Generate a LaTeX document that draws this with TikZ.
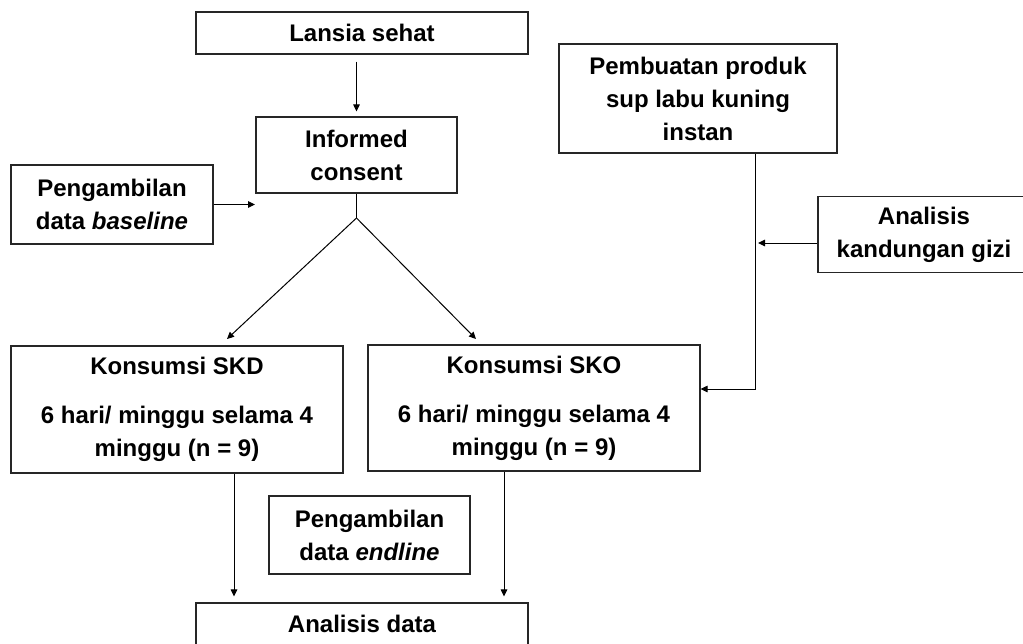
\documentclass[tikz,border=0pt]{standalone}
\usepackage{fontspec}
\setmainfont{Liberation Sans}
\usetikzlibrary{arrows.meta}
\begin{document}
\begin{tikzpicture}[x=1pt,y=-1pt,
  box/.style={draw=black!85,line width=1.1pt,align=center,inner sep=0pt,
    font=\bfseries\fontsize{24}{33}\selectfont},
  arr/.style={-{Triangle[length=7pt,width=6.5pt]},line width=1pt},
  ln/.style={line width=1pt}]
\useasboundingbox (0,0) rectangle (1023,643);
\fill[white] (0,0) rectangle (1023,643);
% boxes
\node[box,minimum width=332pt,minimum height=42pt] (lansia) at (362,33) {Lansia sehat};
\node[box,minimum width=201pt,minimum height=76pt] (ic) at (356.5,155) {Informed\\consent};
\node[box,minimum width=202pt,minimum height=79pt] (base) at (112,204.5) {Pengambilan\\data \textit{baseline}};
\node[box,minimum width=278pt,minimum height=109pt] (prod) at (698,98.5) {Pembuatan produk\\sup labu kuning\\instan};
\node[box,minimum width=212pt,minimum height=76pt] (gizi) at (924,234.5) {Analisis\\kandungan gizi};
\node[box,minimum width=332pt,minimum height=127pt] (skd) at (177,409.5) {Konsumsi SKD\\[16pt]6 hari/ minggu selama 4\\minggu (n = 9)};
\node[box,minimum width=332pt,minimum height=126pt] (sko) at (534,408) {Konsumsi SKO\\[16pt]6 hari/ minggu selama 4\\minggu (n = 9)};
\node[box,minimum width=201pt,minimum height=78pt] (endl) at (369.5,535) {Pengambilan\\data \textit{endline}};
\node[box,minimum width=332pt,minimum height=42pt] (ana) at (362,624) {Analisis data};
% helper coordinates
\coordinate (bt) at (255,204.5);
\coordinate (fork) at (356.5,218);
\coordinate (skdin) at (227,339);
\coordinate (skoin) at (476,339);
\coordinate (c1) at (234,0);
\coordinate (c2) at (504,0);
\coordinate (turn) at (755,389);
\coordinate (gz) at (758,243);
% connectors
\draw[arr,shorten <=7pt,shorten >=5pt] (ic.north |- lansia.south) -- (ic.north);
\draw[arr] (base.east) -- (bt);
\draw[ln] (ic.south) -- (fork);
\draw[arr] (fork) -- (skdin);
\draw[arr] (fork) -- (skoin);
\draw[arr,shorten >=6pt] (skd.south -| c1) -- (ana.north -| c1);
\draw[arr,shorten >=6pt] (sko.south -| c2) -- (ana.north -| c2);
\draw[arr] (prod.south -| turn) -- (turn) -- (sko.east |- turn);
\draw[arr] (gizi.west |- gz) -- (gz);
\end{tikzpicture}
\end{document}
